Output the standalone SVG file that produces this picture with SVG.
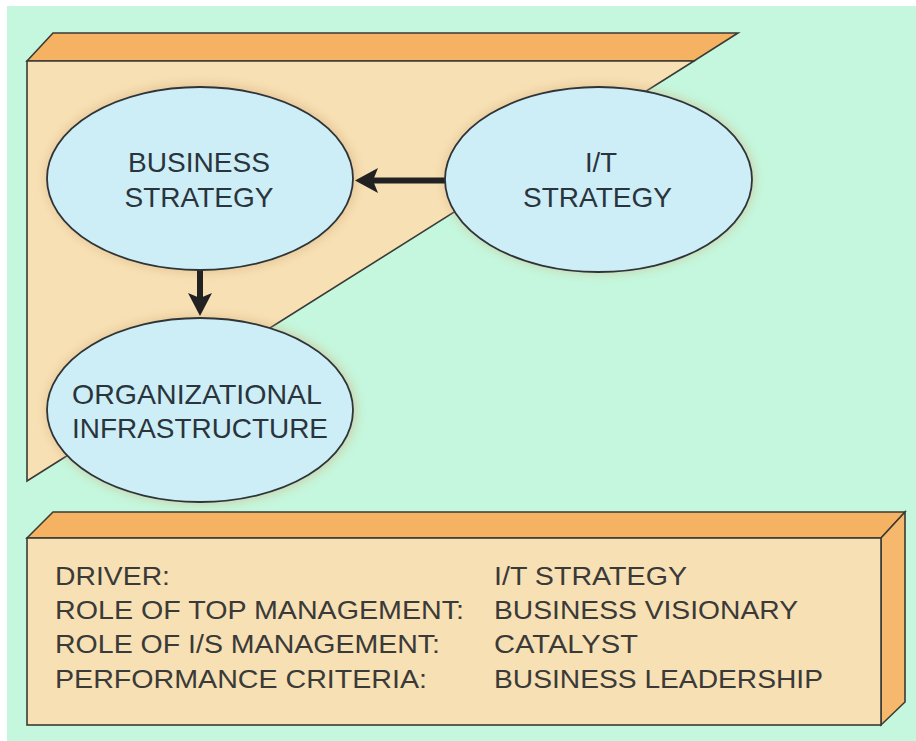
<svg xmlns="http://www.w3.org/2000/svg" width="916" height="741" viewBox="0 0 916 741">
  <defs>
    <style>
      .edge { stroke: #3a3a36; stroke-width: 1.6; stroke-linejoin: miter; }
      .top { fill: #f5b262; }
      .front { fill: #f7e0b4; }
      .side { fill: #f6b86c; }
      .ell { fill: #cdeef6; stroke: #2e3438; stroke-width: 1.8; }
      .halo { fill: #d2aa78; opacity: 0.45; filter: url(#blur); }
      .lbl { font-family: "Liberation Sans", Arial, Helvetica, sans-serif; font-size: 27.5px; fill: #2a343c; text-anchor: middle; }
      .info { font-family: "Liberation Sans", Arial, Helvetica, sans-serif; font-size: 26.5px; fill: #3a3a38; }
      .arr { stroke: #222; stroke-width: 6; fill: none; }
      .head { fill: #222; }
    </style>
    <filter id="blur" x="-20%" y="-20%" width="140%" height="140%">
      <feGaussianBlur stdDeviation="5"/>
    </filter>
  </defs>

  <!-- background -->
  <rect x="0" y="0" width="916" height="741" fill="#ffffff"/>
  <rect x="7" y="6" width="909" height="735" fill="#c4f7dd"/>

  <!-- triangular panel -->
  <g id="panel">
    <polygon class="top edge" points="27,61 53,33 738,33 694,61"/>
    <polygon class="front edge" points="27,61 694,61 27,481"/>
  </g>

  <!-- halos -->
  <g id="halos">
    <ellipse class="halo" cx="201" cy="178" rx="156" ry="95"/>
    <ellipse class="halo" cx="599" cy="179" rx="156" ry="95"/>
    <ellipse class="halo" cx="201" cy="410" rx="156" ry="95"/>
  </g>

  <!-- connectors -->
  <g id="connectors">
    <line class="arr" x1="446" y1="180.5" x2="372" y2="180.5"/>
    <path class="head" d="M355,180.5 L378,168 L373,180.5 L378,193 Z"/>
    <line class="arr" x1="200" y1="270" x2="200" y2="298"/>
    <path class="head" d="M200,316 L188,293 L200,298 L212,293 Z"/>
  </g>

  <g id="node-business">
    <ellipse class="ell" cx="200" cy="178.5" rx="153" ry="91.5"/>
    <text class="lbl" x="199" y="172" textLength="142" lengthAdjust="spacingAndGlyphs">BUSINESS</text>
    <text class="lbl" x="199" y="207" textLength="149" lengthAdjust="spacingAndGlyphs">STRATEGY</text>
  </g>

  <g id="node-it">
    <ellipse class="ell" cx="598.5" cy="179.5" rx="153.5" ry="92.5"/>
    <text class="lbl" x="601" y="172">I/T</text>
    <text class="lbl" x="597.5" y="207" textLength="149" lengthAdjust="spacingAndGlyphs">STRATEGY</text>
  </g>

  <g id="node-org">
    <ellipse class="ell" cx="200" cy="410" rx="153" ry="92"/>
    <text class="lbl" x="197" y="404" textLength="250" lengthAdjust="spacingAndGlyphs">ORGANIZATIONAL</text>
    <text class="lbl" x="200" y="438" textLength="256" lengthAdjust="spacingAndGlyphs">INFRASTRUCTURE</text>
  </g>

  <!-- info box -->
  <g id="info-box">
    <polygon class="top edge" points="27,538 53,512 905,512 881,538"/>
    <polygon class="side edge" points="881,538 905,512 905,702 881,725"/>
    <rect class="front edge" x="27" y="538" width="854" height="187"/>
    <text class="info" x="55" y="585" textLength="115" lengthAdjust="spacingAndGlyphs">DRIVER:</text>
    <text class="info" x="55" y="619" textLength="409" lengthAdjust="spacingAndGlyphs">ROLE OF TOP MANAGEMENT:</text>
    <text class="info" x="55" y="653" textLength="385" lengthAdjust="spacingAndGlyphs">ROLE OF I/S MANAGEMENT:</text>
    <text class="info" x="55" y="688" textLength="372" lengthAdjust="spacingAndGlyphs">PERFORMANCE CRITERIA:</text>
    <text class="info" x="494" y="585" textLength="193" lengthAdjust="spacingAndGlyphs">I/T STRATEGY</text>
    <text class="info" x="494" y="619" textLength="304" lengthAdjust="spacingAndGlyphs">BUSINESS VISIONARY</text>
    <text class="info" x="494" y="653" textLength="144" lengthAdjust="spacingAndGlyphs">CATALYST</text>
    <text class="info" x="494" y="688" textLength="329" lengthAdjust="spacingAndGlyphs">BUSINESS LEADERSHIP</text>
  </g>
</svg>
